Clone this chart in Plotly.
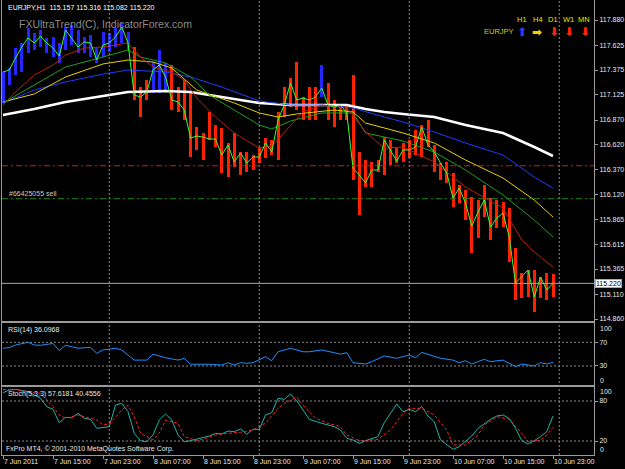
import pandas as pd
import plotly.graph_objects as go

# ---------------- data ----------------
START = "2011-06-07 07:00"   # first visible H1 bar

high = [117.355, 117.395, 117.597, 117.648, 117.799, 117.749, 117.779, 117.698, 117.708, 117.648,
        117.809, 117.829, 117.779, 117.708, 117.728, 117.597, 117.759, 117.749, 117.799, 117.850,
        117.759, 117.607, 117.203, 117.274, 117.456, 117.577, 117.446, 117.425, 117.203, 117.274,
        117.143, 116.799, 116.739, 116.951, 116.819, 116.789, 116.638, 116.739, 116.547, 116.547,
        116.516, 116.597, 116.688, 116.668, 116.951, 117.203, 117.294, 117.456, 117.102, 117.203,
        117.203, 117.425, 117.244, 117.072, 117.021, 117.021, 117.324, 116.547, 116.466, 116.446,
        116.466, 116.698, 116.668, 116.587, 116.638, 116.668, 116.769, 116.819, 116.870, 116.617,
        116.436, 116.446, 116.335, 116.213, 116.163, 116.092, 116.062, 116.213, 116.082, 116.062,
        116.042, 115.981, 115.577, 115.324, 115.355, 115.355, 115.284, 115.324, 115.316]
low = [117.042, 117.223, 117.324, 117.355, 117.547, 117.577, 117.607, 117.547, 117.506, 117.446,
       117.577, 117.627, 117.547, 117.547, 117.506, 117.446, 117.506, 117.557, 117.607, 117.648,
       117.577, 117.072, 116.900, 117.072, 117.143, 117.143, 117.173, 116.971, 116.951, 116.870,
       116.496, 116.567, 116.466, 116.668, 116.597, 116.335, 116.294, 116.395, 116.314, 116.345,
       116.365, 116.436, 116.486, 116.516, 116.466, 116.900, 117.001, 116.971, 116.870, 116.870,
       116.870, 117.102, 116.870, 116.799, 116.870, 116.870, 116.264, 115.910, 116.193, 116.193,
       116.345, 116.314, 116.415, 116.436, 116.446, 116.486, 116.516, 116.496, 116.597, 116.345,
       116.264, 116.234, 115.991, 116.032, 115.860, 115.526, 115.678, 115.890, 115.658, 115.779,
       115.789, 115.436, 115.052, 115.072, 115.082, 114.931, 115.072, 115.052, 115.082]
close = [117.355, 117.375, 117.496, 117.607, 117.698, 117.648, 117.718, 117.648, 117.597, 117.516,
         117.779, 117.698, 117.607, 117.658, 117.648, 117.476, 117.627, 117.648, 117.708, 117.809,
         117.648, 117.122, 117.102, 117.153, 117.375, 117.425, 117.304, 117.072, 117.052, 116.971,
         116.688, 116.708, 116.698, 116.678, 116.678, 116.516, 116.617, 116.446, 116.537, 116.436,
         116.496, 116.496, 116.638, 116.547, 116.870, 117.021, 117.244, 117.072, 117.092, 117.072,
         117.102, 117.193, 117.021, 117.001, 117.021, 116.941, 116.385, 116.314, 116.234, 116.365,
         116.365, 116.668, 116.567, 116.456, 116.567, 116.567, 116.597, 116.799, 116.617, 116.547,
         116.436, 116.335, 116.082, 116.183, 116.032, 115.799, 115.941, 116.062, 115.789, 115.880,
         115.931, 115.688, 115.223, 115.284, 115.355, 115.082, 115.284, 115.153, 115.220]
up_bars = list(range(0, 21)) + [24, 25, 26, 51]   # bars painted blue by FXUltraTrend

ma_white_i = [0, 5, 10, 16, 20, 26, 30, 35, 41, 46, 55, 58, 61, 64, 69, 74, 80, 85, 88]
ma_white = [116.920, 116.981, 117.052, 117.112, 117.153, 117.163, 117.153, 117.102, 117.042, 117.021,
            117.021, 116.981, 116.951, 116.931, 116.900, 116.819, 116.739, 116.597, 116.506]
ma_blue_i = [0, 5, 10, 16, 20, 26, 30, 35, 41, 46, 51, 56, 61, 64, 69, 74, 80, 85, 88]
ma_blue = [117.042, 117.173, 117.254, 117.334, 117.375, 117.355, 117.304, 117.203, 117.062, 117.021,
           117.021, 116.991, 116.900, 116.850, 116.749, 116.638, 116.516, 116.294, 116.183]
ma_yellow_i = [0, 5, 10, 16, 20, 24, 27, 31, 37, 41, 44, 47, 53, 56, 58, 61, 64, 69, 74, 80, 85, 88]
ma_yellow = [117.052, 117.133, 117.304, 117.436, 117.476, 117.456, 117.395, 117.173, 117.042, 116.941,
             116.900, 116.931, 116.971, 116.951, 116.840, 116.789, 116.739, 116.638, 116.466, 116.284,
             116.062, 115.890]
ma_green_i = [0, 5, 10, 16, 20, 22, 26, 30, 33, 37, 41, 43, 46, 51, 56, 58, 64, 69, 74, 80, 85, 88]
ma_green = [117.042, 117.223, 117.405, 117.506, 117.577, 117.506, 117.446, 117.304, 117.122, 116.971,
            116.819, 116.779, 116.860, 116.941, 116.941, 116.739, 116.658, 116.547, 116.365, 116.112,
            115.860, 115.688]
ma_red_i = [0, 2, 5, 8, 10, 13, 16, 20, 22, 24, 27, 29, 31, 34, 37, 41, 43, 46, 48, 51, 55, 56, 58,
            61, 64, 69, 74, 80, 83, 85, 88]
ma_red = [117.021, 117.153, 117.324, 117.425, 117.526, 117.597, 117.607, 117.648, 117.506, 117.405,
          117.355, 117.274, 117.092, 116.900, 116.739, 116.587, 116.607, 116.819, 116.951, 117.021,
          116.991, 116.920, 116.749, 116.587, 116.597, 116.446, 116.193, 115.981, 115.658, 115.537,
          115.385]

rsi_i = [0, 1, 2, 4, 5, 6, 8, 9, 10, 12, 14, 15, 16, 18, 19, 21, 23, 24, 26, 28, 29, 30, 33, 35, 36,
         37, 38, 39, 40, 42, 43, 44, 46, 48, 49, 51, 53, 54, 55, 56, 58, 59, 61, 63, 65, 66, 67, 69,
         70, 72, 73, 74, 75, 77, 78, 80, 81, 82, 83, 85, 86, 87, 88]
rsi_val = [60, 61, 65.4, 70, 65.4, 65, 68, 56, 65, 60, 61.5, 51.5, 57, 60, 57, 40, 40, 50, 44, 40,
           43, 33, 33, 31.7, 35.6, 31.7, 35.6, 34.5, 35.6, 45.7, 39, 54, 60, 54, 54, 57, 52.5, 50,
           52.5, 35.6, 33.4, 37.3, 47, 43, 48.6, 44, 53, 45.7, 43, 40, 35.6, 39, 33.4, 41.3, 37.3,
           40, 34.5, 28.8, 33.4, 30, 35.6, 33.4, 36.1]

stoch_k_i = [0, 1, 2, 4, 5, 6, 7, 8, 9, 10, 11, 12, 13, 14, 15, 16, 17, 18, 19, 20, 21, 22, 23, 24,
             25, 26, 27, 28, 29, 30, 31, 33, 34, 35, 36, 37, 38, 39, 40, 41, 42, 43, 44, 45, 46, 47,
             48, 49, 51, 53, 54, 55, 56, 57, 58, 59, 60, 61, 62, 63, 64, 65, 66, 67, 68, 69, 70, 71,
             72, 73, 74, 75, 76, 78, 79, 80, 81, 82, 83, 84, 85, 86, 87, 88]
stoch_k = [92.5, 96.5, 97.5, 94, 89, 84, 71.5, 67.5, 47.5, 55.5, 55, 61.5, 54, 52.5, 39, 40.5, 41.5,
           74, 76.5, 64, 31.5, 20.5, 19, 29, 51.5, 60.5, 51.5, 29, 19, 20.5, 22.5, 27.5, 31.5, 30.5,
           35, 34, 38, 30, 37.5, 37.5, 59, 62.5, 84, 82.5, 90.5, 80.5, 66.5, 52.5, 46.5, 41.5, 36.5,
           24, 21.5, 16.5, 20.5, 23, 26.5, 47.5, 61.5, 75.5, 64, 67.5, 64, 71.5, 57.5, 49, 21.5, 14,
           7.5, 11.5, 19, 27.5, 39, 52.5, 57.5, 59, 54, 39, 20.5, 15.5, 20.5, 26.5, 34, 57.6]
stoch_d_i = [0, 2, 6, 7, 8, 9, 10, 12, 13, 15, 16, 17, 19, 20, 21, 22, 24, 25, 26, 28, 29, 31, 32,
             34, 36, 39, 40, 42, 44, 45, 47, 48, 50, 52, 54, 55, 57, 58, 60, 62, 64, 65, 67, 69, 71,
             72, 74, 76, 77, 79, 81, 83, 84, 86, 87, 88]
stoch_d = [97, 97, 91.5, 81.5, 71.5, 59, 54, 59, 56.5, 51.5, 44, 45.5, 66.5, 74, 56.5, 31.5, 21.5,
           31.5, 51.5, 46.5, 26.5, 20.5, 22.5, 29, 31.5, 34, 36.5, 46.5, 69, 76.5, 85.5, 74, 54, 46.5,
           41.5, 29, 20.5, 20.5, 22.5, 36.5, 61.5, 69, 69, 59, 36.5, 14, 14, 29, 44, 56.5, 52.5, 31.5,
           19, 21.5, 29, 40.5]

price_ticks = [117.880, 117.625, 117.375, 117.125, 116.870, 116.620, 116.370, 116.120,
               115.865, 115.615, 115.365, 115.110, 114.860]
rsi_levels = [70, 30]
rsi_edge_labels = ["100", "0"]
stoch_levels = [80, 20]
stoch_edge_labels = ["100", "0"]
time_labels = ["7 Jun 2011", "7 Jun 15:00", "7 Jun 23:00", "8 Jun 07:00", "8 Jun 15:00",
               "8 Jun 23:00", "9 Jun 07:00", "9 Jun 15:00", "9 Jun 23:00", "10 Jun 07:00",
               "10 Jun 15:00", "10 Jun 23:00"]
time_label_bars = [0, 8, 16, 24, 32, 40, 48, 56, 64, 72, 80, 88]
day_lines = ["2011-06-08 00:00", "2011-06-09 00:00", "2011-06-10 00:00", "2011-06-11 00:00"]

bid_price = 115.220
order_open = 116.075
order_stop = 116.408
header_text = "EURJPY,H1  115.157 115.316 115.082 115.220"
watermark = "FXUltraTrend(C), IndicatorForex.com"
order_label = "#66425055 sell"
rsi_label = "RSI(14) 36.0968"
stoch_label = "Stoch(5,3,3) 57.6181 40.4556"
copyright_text = "FxPro MT4, © 2001-2010 MetaQuotes Software Corp."
tf_names = ["H1", "H4", "D1", "W1", "MN"]
tf_arrows = ["⬆", "➡", "⬇", "⬇", "⬇"]
tf_colors = ["#2a3cff", "#ffcc00", "#ff2200", "#ff2200", "#ff2200"]

# ---------------- figure ----------------
times = pd.date_range(START, periods=len(close), freq="h")
bar_colors = ["#2626ff" if i in up_bars else "#ff2200" for i in range(len(close))]

FONT = "Liberation Sans, Arial, sans-serif"
LINE = "#9a9a9a"
TXT = "#e8e8e8"

fig = go.Figure()
fig.add_trace(go.Bar(x=times, y=[h - l for h, l in zip(high, low)], base=low,
                     width=0.48 * 3600 * 1000, marker=dict(color=bar_colors, line=dict(width=0)),
                     xaxis="x", yaxis="y", hoverinfo="skip"))

for idx, vals, col, w in [(ma_white_i, ma_white, "#ffffff", 2.6),
                          (ma_blue_i, ma_blue, "#1f3cff", 1),
                          (ma_yellow_i, ma_yellow, "#e8d000", 1),
                          (ma_green_i, ma_green, "#1f9f1f", 1),
                          (ma_red_i, ma_red, "#b8220c", 1)]:
    fig.add_trace(go.Scatter(x=[times[i] for i in idx], y=vals, mode="lines",
                             line=dict(color=col, width=w), xaxis="x", yaxis="y", hoverinfo="skip"))

fig.add_trace(go.Scatter(x=times, y=close, mode="lines", line=dict(color="#33ff33", width=1),
                         xaxis="x", yaxis="y", hoverinfo="skip"))

fig.add_trace(go.Scatter(x=[times[i] for i in rsi_i], y=rsi_val, mode="lines",
                         line=dict(color="#1e8fff", width=1), xaxis="x2", yaxis="y2", hoverinfo="skip"))
fig.add_trace(go.Scatter(x=[times[i] for i in stoch_k_i], y=stoch_k, mode="lines",
                         line=dict(color="#20b2aa", width=1), xaxis="x3", yaxis="y3", hoverinfo="skip"))
fig.add_trace(go.Scatter(x=[times[i] for i in stoch_d_i], y=stoch_d, mode="lines",
                         line=dict(color="#ff2020", width=1, dash="3px,2px"), xaxis="x3", yaxis="y3",
                         hoverinfo="skip"))

xr = ["2011-06-07 06:50:24", "2011-06-11 05:33:36"]
frame = dict(showgrid=False, zeroline=False, showline=True, mirror=True, linecolor=LINE, linewidth=1)
yfmt = dict(side="right", ticks="outside", ticklen=3, tickcolor=LINE,
            tickfont=dict(family=FONT, size=7, color=TXT))

shapes = []
for d in day_lines:
    shapes.append(dict(type="line", xref="x", yref="paper", x0=d, x1=d, y0=0, y1=1,
                       line=dict(color="#8a8a8a", width=1, dash="2px,2px")))
for lv in rsi_levels:
    shapes.append(dict(type="line", xref="x2 domain", yref="y2", x0=0, x1=1, y0=lv, y1=lv,
                       line=dict(color="#8a8a8a", width=1, dash="2px,2px")))
for lv in stoch_levels:
    shapes.append(dict(type="line", xref="x3 domain", yref="y3", x0=0, x1=1, y0=lv, y1=lv,
                       line=dict(color="#8a8a8a", width=1, dash="2px,2px")))
shapes.append(dict(type="line", xref="x domain", yref="y", x0=0, x1=1, y0=order_stop, y1=order_stop,
                   line=dict(color="#cc2200", width=1, dash="6px,3px,2px,3px")))
shapes.append(dict(type="line", xref="x domain", yref="y", x0=0, x1=1, y0=order_open, y1=order_open,
                   line=dict(color="#1f8a1f", width=1, dash="6px,3px,2px,3px")))
shapes.append(dict(type="line", xref="x domain", yref="y", x0=0, x1=1, y0=bid_price, y1=bid_price,
                   line=dict(color="#a8a8a8", width=1)))

ann = []
for lab, b in zip(time_labels, time_label_bars):
    ann.append(dict(x=times[b], xref="x3", y=0, yref="paper", yanchor="top", xanchor="left",
                    yshift=-1, xshift=-1, text=lab, showarrow=False,
                    font=dict(family=FONT, size=7, color=TXT)))
# subwindow scale end labels (MT4 draws them inside the panel edges)
for lab, yp in zip(rsi_edge_labels, [0.2791, 0.1648]):
    ann.append(dict(x=1.0, y=yp, xref="paper", yref="paper", xanchor="left", yanchor="middle",
                    xshift=4, text=lab, showarrow=False, font=dict(family=FONT, size=7, color=TXT)))
for lab, yp in zip(stoch_edge_labels, [0.1385, 0.0110]):
    ann.append(dict(x=1.0, y=yp, xref="paper", yref="paper", xanchor="left", yanchor="middle",
                    xshift=4, text=lab, showarrow=False, font=dict(family=FONT, size=7, color=TXT)))
ann.append(dict(x=0.0068, y=0.9835, xref="paper", yref="paper", xanchor="left", yanchor="middle",
                text=header_text, showarrow=False, font=dict(family=FONT, size=7, color="#ffffff")))
ann.append(dict(x=0.0253, y=0.9473, xref="paper", yref="paper", xanchor="left", yanchor="middle",
                text=watermark, showarrow=False, font=dict(family=FONT, size=10.5, color="#8c8c8c")))
ann.append(dict(x=0.0085, y=order_open, xref="paper", yref="y", xanchor="left", yanchor="bottom",
                yshift=0, text=order_label, showarrow=False,
                font=dict(family=FONT, size=7, color="#c8c8c8")))
ann.append(dict(x=0.0068, y=0.2747, xref="paper", yref="paper", xanchor="left", yanchor="middle",
                text=rsi_label, showarrow=False, font=dict(family=FONT, size=7, color=TXT)))
ann.append(dict(x=0.0068, y=0.1341, xref="paper", yref="paper", xanchor="left", yanchor="middle",
                text=stoch_label, showarrow=False, font=dict(family=FONT, size=7, color=TXT)))
ann.append(dict(x=0.0034, y=0.0132, xref="paper", yref="paper", xanchor="left", yanchor="middle",
                text=copyright_text, showarrow=False, font=dict(family=FONT, size=7, color=TXT)))
ann.append(dict(x=1.0, y=bid_price, xref="paper", yref="y", xanchor="left", yanchor="middle",
                xshift=1, text=f"{bid_price:.3f}", showarrow=False, bgcolor="#ffffff",
                bordercolor="#a8a8a8", borderwidth=1, borderpad=0,
                font=dict(family=FONT, size=7, color="#000000")))
name_x = [0.8784, 0.9054, 0.9307, 0.9561, 0.9831]
arrow_x = [0.8784, 0.9037, 0.9324, 0.9578, 0.9848]
for nm, ax_, ar, arx, c in zip(tf_names, name_x, tf_arrows, arrow_x, tf_colors):
    ann.append(dict(x=ax_, y=0.9582, xref="paper", yref="paper", xanchor="center", yanchor="middle",
                    text=nm, showarrow=False, font=dict(family=FONT, size=7.5, color="#e6e600")))
    ann.append(dict(x=arx, y=0.9297, xref="paper", yref="paper", xanchor="center", yanchor="middle",
                    text="<b>" + ar + "</b>", showarrow=False,
                    font=dict(family="DejaVu Sans", size=12, color=c)))
ann.append(dict(x=0.8395, y=0.9297, xref="paper", yref="paper", xanchor="center", yanchor="middle",
                text="EURJPY", showarrow=False, font=dict(family=FONT, size=7.5, color="#c8d200")))

fig.update_layout(
    width=625, height=469, margin=dict(l=2, r=31, t=0, b=14),
    paper_bgcolor="#000000", plot_bgcolor="#000000", showlegend=False, hovermode=False,
    font=dict(family=FONT, size=7, color=TXT),
    xaxis=dict(domain=[0, 1], anchor="y", range=xr, showticklabels=False, **frame),
    xaxis2=dict(domain=[0, 1], anchor="y2", range=xr, matches="x", showticklabels=False, **frame),
    xaxis3=dict(domain=[0, 1], anchor="y3", range=xr, matches="x", showticklabels=False,
                ticks="outside", ticklen=3, tickcolor=LINE,
                tickvals=[times[b] for b in time_label_bars], **frame),
    yaxis=dict(domain=[0.29451, 1], anchor="x", range=[114.840, 118.082], tickvals=price_ticks,
               ticktext=[f"{v:.3f}" for v in price_ticks], **yfmt, **frame),
    yaxis2=dict(domain=[0.15385, 0.29011], anchor="x2", range=[-2.07, 102.6], tickvals=rsi_levels,
                **yfmt, **frame),
    yaxis3=dict(domain=[0, 0.14945], anchor="x3", range=[-1, 101], tickvals=stoch_levels,
                **yfmt, **frame),
    shapes=shapes, annotations=ann, bargap=0,
)

fig.write_html("out.html")
